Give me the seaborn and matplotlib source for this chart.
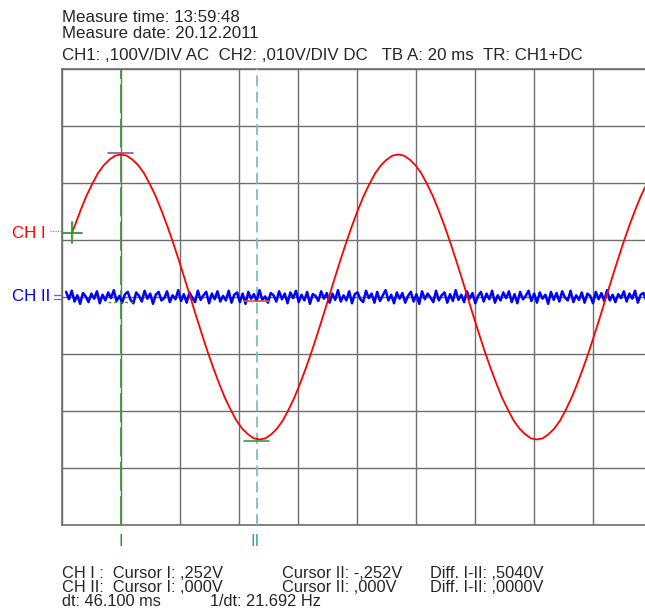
"""
Oscilloscope screen capture: CH I sine and CH II noise with two time cursors
"""

import numpy as np
import pandas as pd
import matplotlib
matplotlib.use("Agg")
import matplotlib.pyplot as plt
import seaborn as sns

# Screen scales
TB_MS_PER_DIV = 20.0
CH1_V_PER_DIV = 0.100
CH2_V_PER_DIV = 0.010

# CH I trace, volts read from the screen; first point is the trigger point,
# the rest are on an even sample clock
ch1_first_ms = 3.4
ch1_t0_ms = 4.33
ch1_dt_ms = 1.958
ch1_volts = [
    0.113,
    0.125, 0.152, 0.177, 0.198, 0.217, 0.231, 0.241, 0.248,
    0.250, 0.248, 0.241, 0.231, 0.217, 0.198, 0.177, 0.152, 0.125, 0.096, 0.065, 0.033,
    0.0, -0.033, -0.065, -0.096, -0.125, -0.152, -0.177, -0.198, -0.217, -0.231, -0.241, -0.248,
    -0.250, -0.248, -0.241, -0.231, -0.217, -0.198, -0.177, -0.152, -0.125, -0.096, -0.065, -0.033,
    0.0, 0.033, 0.065, 0.096, 0.125, 0.152, 0.177, 0.198, 0.217, 0.231, 0.241, 0.248,
    0.250, 0.248, 0.241, 0.231, 0.217, 0.198, 0.177, 0.152, 0.125, 0.096, 0.065, 0.033,
    0.0, -0.033, -0.065, -0.096, -0.125, -0.152, -0.177, -0.198, -0.217, -0.231, -0.241, -0.248,
    -0.250, -0.248, -0.241, -0.231, -0.217, -0.198, -0.177, -0.152, -0.125, -0.096, -0.065, -0.033,
    0.0, 0.033, 0.065, 0.096, 0.125, 0.152, 0.177, 0.198, 0.217,
]

# CH II trace: noise around zero, in millivolts
ch2_t0_ms = 1.4
ch2_dt_ms = 0.95
ch2_mv = [
    0.9, -0.4, 1.1, -0.8, 0.3, -1.2, 0.7, 0.1, -0.9, 0.6, -0.3, 1.0, -1.1, 0.4, -0.6, 0.8, -0.2, 1.2, -0.7, 0.2,
    -1.0, 0.5, 0.9, -0.5, -1.1, 0.8, 0.2, -0.8, 1.1, -0.3, 0.6, -1.2, 0.4, 0.9, -0.6, -0.2, 1.0, -0.9, 0.3, -0.4,
    1.2, -0.7, 0.5, -1.0, 0.8, -0.1, -0.9, 1.1, -0.5, 0.3, 0.9, -1.1, 0.6, -0.4, 1.0, -0.8, 0.2, -0.6, 1.1, -1.0,
    0.4, 0.8, -0.9, 0.6, -1.2, 0.9, -0.3, 0.5, -0.7, 1.2, -0.5, 0.1, -1.0, 0.7, 0.3, -0.8, 1.0, -0.4, 0.6, -1.1,
    0.8, -0.2, 1.1, -0.9, 0.4, -0.6, 0.9, -1.2, 0.5, 0.2, -0.7, 1.0, -0.3, 0.7, -1.0, 0.6, -0.5, 1.2, -0.8, 0.3,
    -0.6, 1.0, -1.1, 0.5, 0.8, -0.4, -0.9, 1.1, -0.2, 0.6, -1.0, 0.9, -0.7, 0.3, 1.2, -0.6, 0.4, -1.1, 0.8, -0.3,
    0.7, -1.0, 0.2, 0.9, -0.8, 0.5, -1.2, 1.0, -0.4, 0.6, -0.1, -0.9, 1.1, -0.6, 0.3, 0.8, -1.0, 0.5, -0.7, 1.2,
    -0.5, 0.4, -0.9, 1.0, -0.3, 0.7, -1.1, 0.2, 0.9, -0.8, 0.6, -0.4, 1.1, -1.0, 0.3, -0.6, 0.8, -0.2, 1.0, -0.9,
    0.5, -1.1, 0.9, -0.4, 0.2, 1.1, -0.7, 0.6, -1.0, 0.8, -0.3, 0.4, -1.2, 0.9, -0.5, 0.7, -0.8, 1.0, -0.1, -0.6,
    1.1, -0.9, 0.3, -0.5, 0.8, -1.0, 0.6, 0.2, -1.1, 0.9, -0.4, 0.7, -0.7, 1.2, -0.6, 0.4, -0.9, 0.5, -0.2, 1.0,
    -0.8, 0.6, -0.3, 1.1, -1.0, 0.4, 0.7, -0.6, 0.9, -1.2,
]

# Cursors
cursor_ms = [20.0, 66.1]
cursor_labels = ["I", "II"]
cursor_ch1_volts = [0.252, -0.252]

header_lines = ["Measure time: 13:59:48", "Measure date: 20.12.2011"]
settings_line = "CH1: ,100V/DIV AC  CH2: ,010V/DIV DC   TB A: 20 ms  TR: CH1+DC"
footer_col1 = ["CH I :  Cursor I: ,252V", "CH II:  Cursor I: ,000V"]
footer_col2 = ["Cursor II: -,252V", "Cursor II: ,000V"]
footer_col3 = ["Diff. I-II: ,5040V", "Diff. I-II: ,0000V"]
footer_dt = ["dt: 46.100 ms", "1/dt: 21.692 Hz"]

# Build tables in screen divisions
ch1_t = [ch1_first_ms] + list(ch1_t0_ms + ch1_dt_ms * np.arange(len(ch1_volts) - 1))
ch1 = pd.DataFrame({"t": ch1_t, "div": np.array(ch1_volts) / CH1_V_PER_DIV})
ch2_t = ch2_t0_ms + ch2_dt_ms * np.arange(len(ch2_mv))
ch2 = pd.DataFrame({"t": ch2_t, "div": np.array(ch2_mv) / 1000.0 / CH2_V_PER_DIV})

sns.set_style("white")
plt.rcParams["font.family"] = ["Liberation Sans", "DejaVu Sans"]
FS = 12.2
FS_FOOT = 11.8

W, H = 645, 610
fig = plt.figure(figsize=(W / 100, H / 100), dpi=100)
# grid spans x 62..652 px (clipped on the right), y 69..525 px
ax = fig.add_axes([62 / W, 1 - 525 / H, 590 / W, 456 / H])
ax.set_xlim(0, 10 * TB_MS_PER_DIV)
ax.set_ylim(-4, 4)
ax.set_xticks(np.arange(0, 201, TB_MS_PER_DIV))
ax.set_yticks(np.arange(-4, 5, 1))
ax.tick_params(length=0, labelbottom=False, labelleft=False)
ax.grid(True, color="#6e6e6e", linewidth=1.0)
for s in ax.spines.values():
    s.set_color("#6e6e6e")
    s.set_linewidth(1.2)

# Cursors
ax.axvline(cursor_ms[0], color="#3a9a3a", lw=1.3, dashes=(16, 3), zorder=3)
ax.axvline(cursor_ms[1], color="#78c0c0", lw=1.3, dashes=(6, 3), zorder=3)

sns.lineplot(data=ch2, x="t", y="div", ax=ax, color="#0000ff", lw=1.8,
             estimator=None, sort=False, legend=False, zorder=4)
sns.lineplot(data=ch1, x="t", y="div", ax=ax, color="#ff0000", lw=1.3,
             estimator=None, sort=False, legend=False, zorder=5)

# Cursor crossing marks
c1 = cursor_ch1_volts[0] / CH1_V_PER_DIV
c2 = cursor_ch1_volts[1] / CH1_V_PER_DIV
ax.plot([cursor_ms[0] - 4.4, cursor_ms[0] + 4.0], [c1, c1], color="#9050a0", lw=1.2, zorder=6)
ax.plot([cursor_ms[1] - 4.4, cursor_ms[1] + 4.0], [c2, c2], color="#3a9a3a", lw=1.2, zorder=6)
ax.plot([cursor_ms[0] - 4.4, cursor_ms[0] + 4.0], [-0.08, -0.08], color="#3a9a3a", lw=1.0,
        ls=(0, (2, 2)), zorder=6)
ax.plot([cursor_ms[1] - 4.4, cursor_ms[1] + 4.0], [-0.07, -0.07], color="#e05030", lw=1.2, zorder=6)

# Trigger cross
tdiv = ch1_volts[0] / CH1_V_PER_DIV
ax.plot([0, 6.8], [tdiv, tdiv], color="#2a9a2a", lw=1.3, zorder=7)
ax.plot([ch1_first_ms, ch1_first_ms], [tdiv - 0.18, tdiv + 0.18], color="#2a9a2a", lw=1.3, zorder=7)

# Channel labels on the left
fig.text(12 / W, 1 - 233 / H, "CH I", color="#ff0000", fontsize=FS, va="center")
fig.add_artist(plt.Line2D([50 / W, 62 / W], [1 - 231 / H] * 2, color="#ff6060",
                          lw=0.9, ls=(0, (1, 1))))
fig.text(12 / W, 1 - 297 / H, "CH II", color="#0000ff", fontsize=FS, va="center")
fig.add_artist(plt.Line2D([54 / W, 62 / W], [1 - 295 / H] * 2, color="#6060ff", lw=0.9))
fig.add_artist(plt.Line2D([54 / W, 62 / W], [1 - 299 / H] * 2, color="#6060ff", lw=0.9))

# Cursor labels below the grid
fig.text(121 / W, 1 - 541 / H, cursor_labels[0], color="#2a9a2a", fontsize=FS,
         ha="center", va="center")
fig.text(255 / W, 1 - 541 / H, cursor_labels[1], color="#40a0a0", fontsize=FS,
         ha="center", va="center")

# Header text
fig.text(62 / W, 1 - 10 / H, "\n".join(header_lines), fontsize=FS, va="top",
         linespacing=1.05)
fig.text(62 / W, 1 - 56 / H, settings_line, fontsize=FS, va="center")

# Footer text blocks
for x, lines in [(62, footer_col1), (282, footer_col2), (430, footer_col3)]:
    fig.text(x / W, 1 - 566 / H, "\n".join(lines), fontsize=FS_FOOT, va="top",
             linespacing=0.92)
fig.text(62 / W, 1 - 606 / H, footer_dt[0], fontsize=FS_FOOT, va="baseline")
fig.text(210 / W, 1 - 606 / H, footer_dt[1], fontsize=FS_FOOT, va="baseline")

fig.savefig("out.png", dpi=100)
plt.close(fig)
